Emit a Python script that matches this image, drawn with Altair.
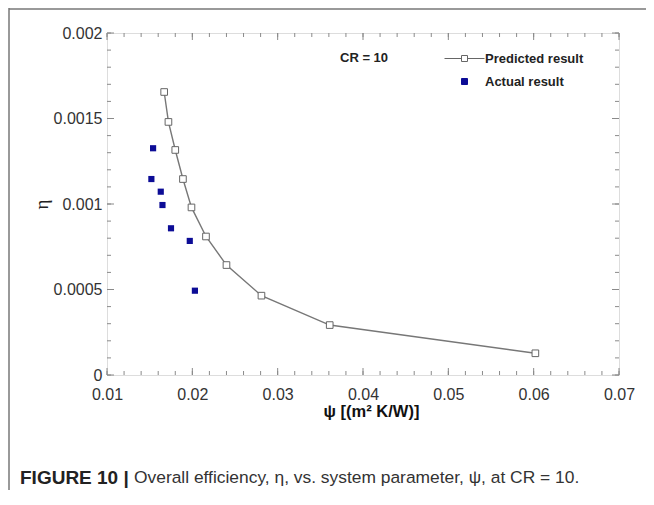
import altair as alt
import pandas as pd

# ---------------- data ----------------
pred_psi = [0.0167, 0.0172, 0.0180, 0.0189, 0.0199, 0.0216, 0.0240, 0.0281, 0.0361, 0.0602]
pred_eta = [0.001655, 0.00148, 0.001316, 0.001146, 0.00098, 0.00081, 0.000643, 0.000464, 0.000292, 0.000127]
act_psi = [0.0154, 0.0152, 0.0163, 0.0165, 0.0175, 0.0197, 0.0203]
act_eta = [0.001326, 0.001146, 0.001072, 0.000994, 0.000858, 0.000784, 0.000493]

series_names = ["Predicted result", "Actual result"]
x_ticks = [0.01, 0.02, 0.03, 0.04, 0.05, 0.06, 0.07]
y_ticks = [0, 0.0005, 0.001, 0.0015, 0.002]
x_minor = [round(0.01 + 0.002 * i, 4) for i in range(31)]
y_minor = [round(0.0001 * i, 5) for i in range(21)]
annotation = ["CR = 10"]
caption_bold = ["FIGURE 10 |"]
caption_text = ["Overall efficiency, η, vs. system parameter, ψ, at CR = 10."]
x_title = "ψ   [(m² K/W)]"
y_title = "η"

# ---------------- layout / style ----------------
W, H = 512, 342
SANS = "Liberation Sans"
SERIF = "Liberation Serif"
GRAY = "#8a8a8a"
BLUE = "#0c0c96"

x_scale = alt.Scale(domain=[0.01, 0.07], nice=False, zero=False)
y_scale = alt.Scale(domain=[0, 0.002], nice=False, zero=False)

x_axis = alt.Axis(values=x_ticks, format=".2f", ticks=False, domain=False, grid=False,
                  labelFont=SANS, labelFontSize=16, labelColor="#333", labelPadding=11,
                  labelFlush=False, title=x_title, titleFont=SANS, titleFontSize=16.5,
                  titleFontWeight="bold", titleColor="#111", titleY=36,
                  titleX=W / 2 + 8, titleBaseline="middle")
y_axis = alt.Axis(values=y_ticks, format="~g", ticks=False, domain=False, grid=False,
                  labelFont=SANS, labelFontSize=16, labelColor="#333", labelPadding=5,
                  labelFlush=False, title=y_title, titleFont=SERIF, titleFontSize=19,
                  titleFontWeight="normal", titleColor="#222", titleX=-66, titleY=H / 2,
                  titleAngle=270, titleAlign="center", titleBaseline="middle")


def X():
    return alt.X("psi:Q", scale=x_scale, axis=x_axis)


def Y():
    return alt.Y("eta:Q", scale=y_scale, axis=y_axis)


pred_df = pd.DataFrame({"psi": pred_psi, "eta": pred_eta})
act_df = pd.DataFrame({"psi": act_psi, "eta": act_eta})

line = alt.Chart(pred_df).mark_line(color="#777", strokeWidth=1.4).encode(x=X(), y=Y())
pred_pts = alt.Chart(pred_df).mark_point(shape="square", size=44, filled=True,
                                         fill="white", stroke="#666", strokeWidth=1,
                                         opacity=1).encode(x=X(), y=Y())
act_pts = alt.Chart(act_df).mark_square(size=38, color=BLUE, opacity=1).encode(x=X(), y=Y())


def tick_layer(values, orient, length):
    if orient in ("bottom", "top"):
        df = pd.DataFrame({"psi": values})
        if orient == "bottom":
            enc = dict(x=X(), y=alt.value(H), y2=alt.value(H - length))
        else:
            enc = dict(x=X(), y=alt.value(0), y2=alt.value(length))
    else:
        df = pd.DataFrame({"eta": values})
        if orient == "left":
            enc = dict(y=Y(), x=alt.value(0), x2=alt.value(length))
        else:
            enc = dict(y=Y(), x=alt.value(W), x2=alt.value(W - length))
    return alt.Chart(df).mark_rule(color=GRAY, strokeWidth=1).encode(**enc)


ticks = []
for side in ("bottom", "top"):
    ticks.append(tick_layer(x_minor, side, 4))
    ticks.append(tick_layer(x_ticks, side, 7))
for side in ("left", "right"):
    ticks.append(tick_layer(y_minor, side, 4))
    ticks.append(tick_layer(y_ticks, side, 7))

# legend built by Vega from shape/fill/stroke scales with custom symbols
pred_symbol = "M-2,0H-0.3M0.3,0H2M-0.3,-0.3H0.3V0.3H-0.3Z"
act_symbol = "M-0.3,-0.3H0.3V0.3H-0.3Z"
leg = alt.Legend(title=None, orient="none", legendX=347, legendY=15, padding=0,
                 symbolSize=400, symbolStrokeWidth=1, symbolOpacity=1,
                 labelFont=SANS, labelFontSize=13, labelFontWeight="bold",
                 labelColor="#222", labelOffset=10, rowPadding=5)
legend_df = pd.DataFrame({"series": series_names})
legend_layer = alt.Chart(legend_df).mark_point(size=400, opacity=0, filled=True).encode(
    shape=alt.Shape("series:N", scale=alt.Scale(domain=series_names,
                                                range=[pred_symbol, act_symbol]),
                    legend=leg),
    fill=alt.Fill("series:N", scale=alt.Scale(domain=series_names,
                                              range=["white", BLUE]), legend=leg),
    stroke=alt.Stroke("series:N", scale=alt.Scale(domain=series_names,
                                                  range=["#666", BLUE]), legend=leg),
)

cr_text = alt.Chart(pd.DataFrame({"t": annotation})).mark_text(
    align="left", baseline="middle", font=SANS, fontSize=13, fontWeight="bold",
    color="#222").encode(x=alt.value(233), y=alt.value(25), text="t:N")

cap1 = alt.Chart(pd.DataFrame({"t": caption_bold})).mark_text(
    align="left", baseline="middle", font=SANS, fontSize=19, fontWeight="bold",
    color="#222").encode(x=alt.value(-87), y=alt.value(445), text="t:N")
cap2 = alt.Chart(pd.DataFrame({"t": caption_text})).mark_text(
    align="left", baseline="middle", font=SANS, fontSize=17.4, fontWeight="normal",
    color="#333").encode(x=alt.value(27), y=alt.value(445), text="t:N")

frame_df = pd.DataFrame({"k": ["frame"]})
frame_left = alt.Chart(frame_df).mark_rule(color="#777", strokeWidth=1.5).encode(
    x=alt.value(-98), y=alt.value(-25), y2=alt.value(H + 130))
frame_top = alt.Chart(frame_df).mark_rule(color="#777", strokeWidth=1.5).encode(
    x=alt.value(-98), x2=alt.value(W + 40), y=alt.value(-24))

chart = alt.layer(
    line, *ticks, pred_pts, act_pts, legend_layer, cr_text, cap1, cap2,
    frame_left, frame_top
).resolve_scale(
    shape="independent", fill="independent", stroke="independent"
).properties(
    width=W, height=H, autosize="none",
    padding={"left": 99, "top": 25, "right": 27, "bottom": 115},
).configure_view(stroke="#999", strokeWidth=1.5).configure(background="white")

chart.save("out.html", embed_options={"renderer": "svg", "actions": False})
